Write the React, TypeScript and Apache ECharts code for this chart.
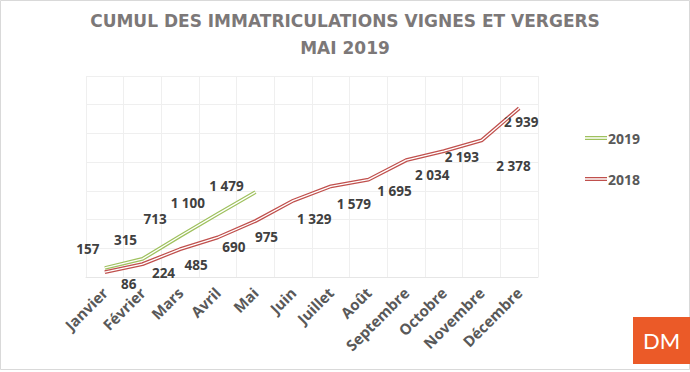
import React, { useEffect, useRef } from "react";
import * as echarts from "echarts";

const months = ["Janvier", "Février", "Mars", "Avril", "Mai", "Juin", "Juillet", "Août", "Septembre", "Octobre", "Novembre", "Décembre"];
const values2019 = [157, 315, 713, 1100, 1479];
const values2018 = [86, 224, 485, 690, 975, 1329, 1579, 1695, 2034, 2193, 2378, 2939];
const yTicks = { min: 0, max: 3500, interval: 500 };

// label placement (pixel offsets from each point), styling only
const labelOffsets2019 = [[-17, -19], [-17, -19], [-25, -17], [-30, -11], [-29, -6]];
const labelOffsets2018 = [[24, 12], [21, 9], [16, 16], [16, 10], [11, 16], [21, 18], [23, 18], [26, 11], [26, 15], [18, 6], [32, 26], [2, 14]];

const GREEN = "#9fc15e";
const RED = "#c0504d";
const fmt = (v: number) => {
  const s = String(v);
  return s.length > 3 ? s.slice(0, s.length - 3) + " " + s.slice(-3) : s;
};

export default function App() {
  const ref = useRef<HTMLDivElement>(null);
  useEffect(() => {
    document.body.style.margin = "0";
    const chart = echarts.init(ref.current!, null, { renderer: "svg" });
    const labelBase = {
      show: true,
      position: "inside",
      align: "center",
      verticalAlign: "middle",
      color: "#404040",
      fontFamily: "Open Sans",
      fontWeight: "bold",
      fontSize: 13.5,
      formatter: (p: any) => fmt(p.value),
    };
    const mk = (vals: number[], offs: number[][]) =>
      vals.map((v, i) => ({ value: v, label: { offset: offs[i] } }));
    const legendIcon = "path://M0,0H22V1.3H0Z M0,2.8H22V4.1H0Z";
    chart.setOption({
      animation: false,
      title: {
        text: "CUMUL DES IMMATRICULATIONS VIGNES ET VERGERS\nMAI 2019",
        left: "center",
        top: 2,
        textStyle: {
          color: "#7c7878",
          fontFamily: "DejaVu Sans",
          fontWeight: "bold",
          fontSize: 17,
          lineHeight: 27,
        },
      },
      legend: {
        orient: "vertical",
        left: 580,
        top: 126,
        itemWidth: 22,
        itemHeight: 5,
        itemGap: 27,
        data: [
          { name: "2019", icon: legendIcon },
          { name: "2018", icon: legendIcon },
        ],
        textStyle: { color: "#595959", fontFamily: "Open Sans", fontWeight: "bold", fontSize: 14, padding: [0, 0, 0, -4] },
      },
      grid: { left: 86, right: 152, top: 76, bottom: 95 },
      xAxis: {
        type: "category",
        data: months,
        boundaryGap: true,
        axisLine: { lineStyle: { color: "#e6e6e6" } },
        axisTick: { show: false },
        splitLine: { show: true, lineStyle: { color: "#efefef" } },
        axisLabel: {
          rotate: 45,
          interval: 0,
          margin: 13,
          color: "#595959",
          fontFamily: "Open Sans",
          fontWeight: "bold",
          fontSize: 15,
        },
      },
      yAxis: {
        type: "value",
        min: yTicks.min,
        max: yTicks.max,
        interval: yTicks.interval,
        axisLabel: { show: false },
        axisLine: { show: false },
        axisTick: { show: false },
        splitLine: { lineStyle: { color: "#efefef" } },
      },
      series: [
        {
          name: "2019",
          type: "line",
          data: mk(values2019, labelOffsets2019),
          symbol: "circle",
          symbolSize: 0,
          itemStyle: { color: GREEN },
          lineStyle: { color: GREEN, width: 3.8 },
          label: labelBase,
          z: 3,
          emphasis: { disabled: true },
        },
        {
          name: "2019w",
          type: "line",
          data: values2019,
          symbol: "none",
          silent: true,
          lineStyle: { color: "#ffffff", width: 1.3 },
          z: 4,
          emphasis: { disabled: true },
        },
        {
          name: "2018",
          type: "line",
          data: mk(values2018, labelOffsets2018),
          symbol: "circle",
          symbolSize: 0,
          itemStyle: { color: RED },
          lineStyle: { color: RED, width: 3.8 },
          label: labelBase,
          z: 3,
          emphasis: { disabled: true },
        },
        {
          name: "2018w",
          type: "line",
          data: values2018,
          symbol: "none",
          silent: true,
          lineStyle: { color: "#ffffff", width: 1.3 },
          z: 4,
          emphasis: { disabled: true },
        },
      ],
      graphic: [
        {
          type: "rect",
          shape: { x: 0.5, y: 0.5, width: 689, height: 369 },
          style: { fill: "none", stroke: "#d9d9d9", lineWidth: 1 },
          silent: true,
        },
        {
          type: "rect",
          shape: { x: 633, y: 317, width: 57, height: 47 },
          style: { fill: "#eb5a28" },
        },
        {
          type: "text",
          x: 661.5,
          y: 340.5,
          style: {
            text: "DM",
            fill: "#ffffff",
            font: "400 22px Lato",
            align: "center",
            verticalAlign: "middle",
          },
        },
      ],
    });
    return () => chart.dispose();
  }, []);
  return <div ref={ref} style={{ position: "absolute", left: 0, top: 0, width: 690, height: 372 }} />;
}
